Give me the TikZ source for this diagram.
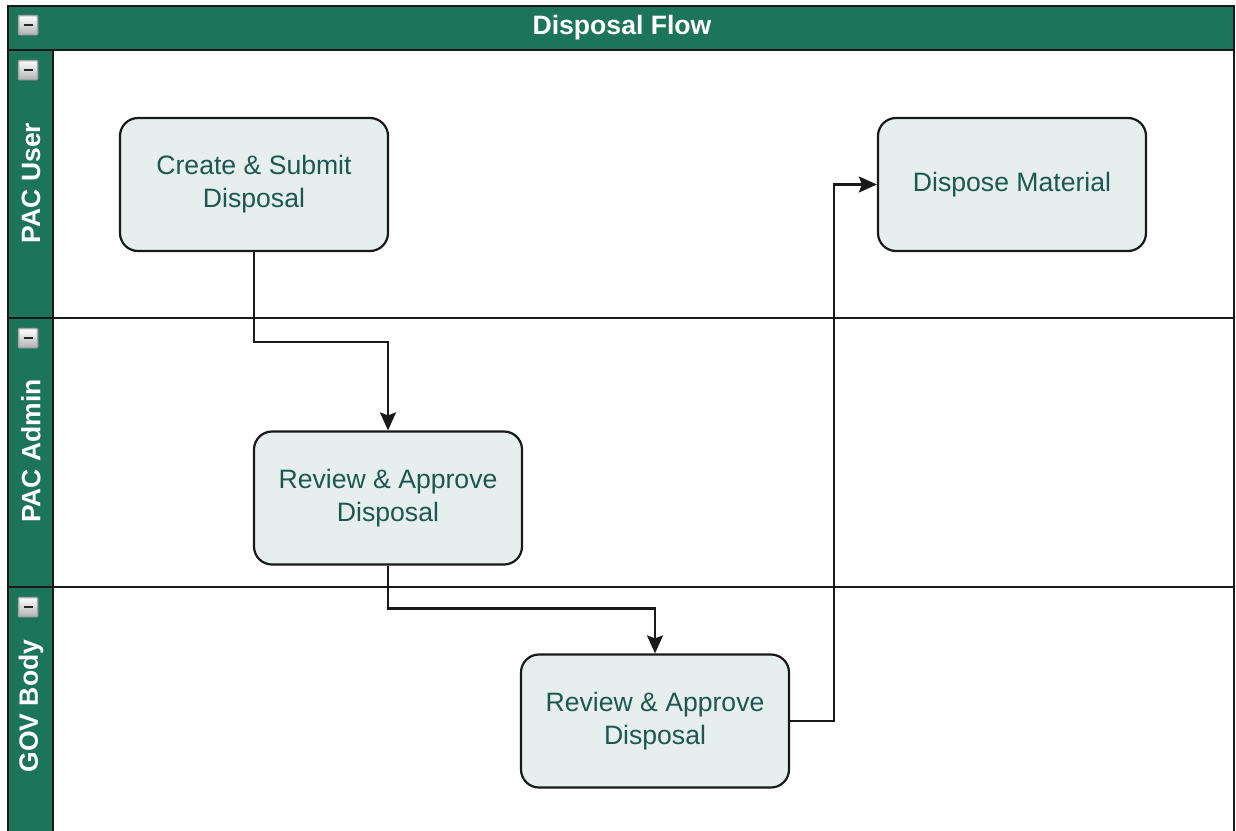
\documentclass[tikz,border=0pt]{standalone}
\usepackage{fontspec}
\setmainfont{Liberation Sans}
\usetikzlibrary{arrows.meta}
\definecolor{lanegreen}{RGB}{29,117,89}
\definecolor{procfill}{RGB}{230,238,238}
\definecolor{proctext}{RGB}{28,88,78}
\tikzset{
  proc/.style={rectangle, rounded corners=18pt, draw=black!90, line width=2.2pt,
    fill=procfill, minimum width=268pt, minimum height=133pt, align=center,
    font=\fontsize{26.6}{33}\selectfont, text=proctext},
  conn/.style={line width=2.3pt, draw=black!90, -{Stealth[length=18pt,width=16pt,inset=3pt]}},
  lanelabel/.style={font=\fontsize{26.5}{30}\selectfont\bfseries, text=white, rotate=90, inner sep=0pt},
  minusbox/.style={draw=black!35, line width=1.5pt, minimum size=19pt, inner sep=0pt,
    top color=white, bottom color=black!30, rounded corners=1pt,
    path picture={\draw[line width=2.5pt, black!85] ([xshift=5pt]path picture bounding box.west) -- ([xshift=-5pt]path picture bounding box.east);}},
  frame/.style={line width=2.4pt, draw=black!90}
}
\begin{document}
\begin{tikzpicture}[x=1pt,y=-1pt]
\useasboundingbox (0,0) rectangle (1236,830);
\clip (0,0) rectangle (1236,830);
\fill[white] (0,0) rectangle (1236,830);
% pool header and lane label column
\fill[lanegreen] (8,6) rectangle (1234,50);
\fill[lanegreen] (8,50) rectangle (53,860);
% lane separators
\draw[frame] (8,318) -- (1234,318);
\draw[frame] (8,587) -- (1234,587);
% frame
\draw[frame] (8,860) -- (8,6) -- (1234,6) -- (1234,860);
\draw[frame] (8,50) -- (1234,50);
\draw[frame] (53,50) -- (53,860);
% title
\node[font=\fontsize{26.6}{30}\selectfont\bfseries, text=white] (title) at (622,28) {Disposal Flow};
% minus icons
\node[minusbox] (m0) at (28,25) {};
\node[minusbox] (m1) at (28,70) {};
\node[minusbox] (m2) at (28,338) {};
\node[minusbox] (m3) at (28,607) {};
% lane labels
\node[lanelabel] (l1) at (31,183) {PAC User};
\node[lanelabel] (l2) at (31,451) {PAC Admin};
\node[lanelabel] (l3) at (31,706) {GOV Body};
% processes
\node[proc] (create) at (254,184.5) {Create \& Submit\\Disposal};
\node[proc] (dispose) at (1012,184.5) {Dispose Material};
\node[proc] (admin) at (388,498) {Review \& Approve\\Disposal};
\node[proc] (gov) at (655,721) {Review \& Approve\\Disposal};
% connectors
\draw[conn] (create.south) -- ++(0,90) -| (admin.north);
\draw[conn] (admin.south) -- ++(0,43) -| (gov.north);
\draw[conn] (gov.east) -- ++(44,0) |- (dispose.west);
\end{tikzpicture}
\end{document}
